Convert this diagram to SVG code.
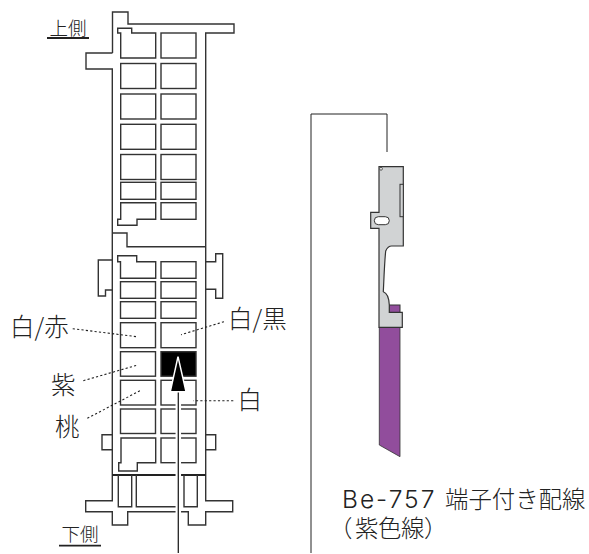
<svg xmlns="http://www.w3.org/2000/svg" width="589" height="554" viewBox="0 0 589 554">
<style>
.o{fill:none;stroke:#333;stroke-width:1.4;stroke-linejoin:miter}
.c{fill:#fff;stroke:#333;stroke-width:1.4}
.d{fill:none;stroke:#222;stroke-width:1.1;stroke-dasharray:2.2 2.2}
.t{font-family:"Noto Sans CJK JP","Liberation Sans",sans-serif;font-weight:300;fill:#222}
.u{font-size:18.5px}
.m{font-size:24.5px}
.cap{font-size:23.4px}
.term{fill:#d1d3d4;stroke:#333;stroke-width:1.2}
</style>
<rect width="589" height="554" fill="#fff"/>
<g id="connector-body">
<path class="o" d="M112.5 53V12H128V24H234V33H205.7V500.7H232.7V511.7H205.7V525H188.3V511.7H181M176 511.7H127.7V525H112.3V511.7H85.7V500.7H112.3V69H86V53H112.5"/>
<path class="o" d="M112.5 233H127V246.7H205.7"/>
<path class="o" d="M112.3 260H98.3V296H105.5V290H112.3"/>
<path class="o" d="M205.3 261.7H215.7V253.7H222.7V298.3H215.7V289.3H205.3"/>
<path class="o" d="M112.3 434.7H102V449.7H112.3"/>
<path class="o" d="M205.7 434.7H215.7V449.7H205.7"/>
<path d="M112.3 475H205.7" fill="none" stroke="#222" stroke-width="1.8"/>
<path class="o" d="M118.3 475V506.7H131.7V475M136.3 475V506.7H181M184 475V506.7H197.3V475"/>
</g>
<g id="cells-upper">
<path class="c" d="M155.7 33H131.7V28.3H117.7V33H120.7V58H155.7Z"/>
<rect class="c" x="161" y="33" width="35" height="25"/>
<rect class="c" x="120.7" y="63.5" width="35" height="25"/><rect class="c" x="161" y="63.5" width="35" height="25"/>
<rect class="c" x="120.7" y="94" width="35" height="25"/><rect class="c" x="161" y="94" width="35" height="25"/>
<rect class="c" x="120.7" y="124.3" width="35" height="25"/><rect class="c" x="161" y="124.3" width="35" height="25"/>
<rect class="c" x="120.7" y="154.5" width="35" height="25"/><rect class="c" x="161" y="154.5" width="35" height="25"/>
<rect class="c" x="120.7" y="182.3" width="35" height="17"/><rect class="c" x="161" y="182.3" width="35" height="17"/>
<path class="c" d="M120.7 202.7H155.7V219.3H137V225.3H117.7V219.3H120.7Z"/>
<rect class="c" x="161" y="202.7" width="35" height="16.6"/>
</g>
<g id="cells-lower">
<path class="c" d="M155.7 261.7H136.7V255.7H117.7V261.7H120.5V278.3H155.7Z"/>
<rect class="c" x="161" y="261.7" width="35" height="16.6"/>
<rect class="c" x="120.5" y="281.7" width="35" height="16.6"/><rect class="c" x="161" y="281.7" width="35" height="16.6"/>
<rect class="c" x="120.5" y="301.7" width="35" height="16.6"/><rect class="c" x="161" y="301.7" width="35" height="16.6"/>
<rect class="c" x="120.5" y="322.7" width="35" height="25"/><rect class="c" x="161" y="322.7" width="35" height="25"/>
<rect class="c" x="120.5" y="351.7" width="35" height="24.5"/><rect x="161" y="351.7" width="35" height="24.5" fill="#000" stroke="#333" stroke-width="1.4"/>
<rect class="c" x="120.5" y="380.3" width="35" height="24.7"/><rect class="c" x="161" y="380.3" width="35" height="24.7"/>
<rect class="c" x="120.5" y="409" width="35" height="24.5"/><rect class="c" x="161" y="409" width="35" height="24.5"/>
<path class="c" d="M121 438H155.7V462.7H137.3V471H118.7V462.7H121Z"/>
<rect class="c" x="161" y="438" width="35" height="24.7"/>
</g>
<g id="connectors">
<path class="d" d="M72.7 328.7L136.7 336.7"/>
<path class="d" d="M224 321.7L181 334.7"/>
<path class="d" d="M83.3 380.7L137.7 365"/>
<path class="d" d="M87.3 418.3L140 390.7"/>
<path class="d" d="M233.3 400.7H193.3"/>
<path d="M178.3 391V553" fill="none" stroke="#fff" stroke-width="5.5"/>
<path d="M178.3 391V553" fill="none" stroke="#222" stroke-width="1.3"/>
<path d="M178 356.7L186 391.7H170.3Z" fill="#000" stroke="#fff" stroke-width="1.5"/>
<path d="M311 553V114H387V152" fill="none" stroke="#222" stroke-width="1"/>
</g>
<g id="labels">
<text class="t u" x="49.5" y="34.5">上側</text>
<path d="M47 38H89" stroke="#222" stroke-width="1.8"/>
<text class="t u" x="61.5" y="541">下側</text>
<path d="M59 545.7H101" stroke="#222" stroke-width="1.8"/>
<text class="t m" x="10" y="336">白/赤</text>
<text class="t m" x="228" y="328">白/黒</text>
<text class="t m" x="51" y="394">紫</text>
<text class="t m" x="55" y="436">桃</text>
<text class="t m" x="237.5" y="409">白</text>
</g>
<g id="terminal">
<path d="M379.3 327H400V456.7L379.3 445Z" fill="#914d9c" stroke="#333" stroke-width="0.8"/>
<rect x="389.3" y="305" width="10.7" height="8" fill="#914d9c" stroke="#333" stroke-width="1"/>
<path class="term" d="M379 166.7H403.3V246H391.7C389 246 387 248 385.7 251C384.5 262 384 278 383.3 291.7C387 293 389 298 389.3 305V312.3H402.3V327.3H379V228.3H370.7V212.3H379Z"/>
<rect x="400" y="184.3" width="3.3" height="32.4" fill="#d1d3d4" stroke="#333" stroke-width="1"/>
<rect x="374.3" y="216.7" width="15" height="8" rx="4" fill="#fff" stroke="#333" stroke-width="1"/>
<circle cx="381" cy="168.8" r="1.4" fill="#fff" stroke="#333" stroke-width="0.8"/>
</g>
<g id="caption">
<text class="t" font-size="24.5" x="342" y="508" style="font-family:'Inter','Liberation Sans',sans-serif;font-weight:300" letter-spacing="2">Be-757</text>
<text class="t cap" x="445" y="508">端子付き配線</text>
<text class="t cap" x="329 355 378 401 424" y="537">（紫色線）</text>
</g>
</svg>
